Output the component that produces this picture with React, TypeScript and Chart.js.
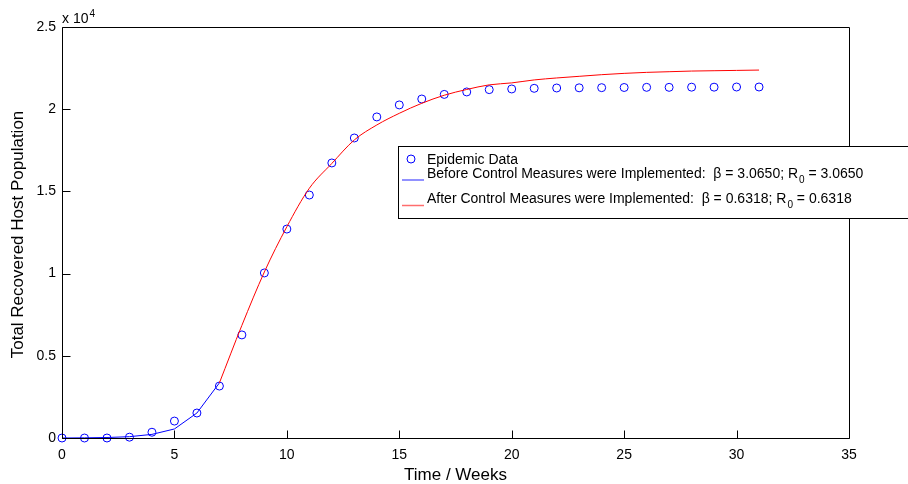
import React, { useEffect, useRef } from "react";
import { Chart, registerables } from "chart.js";

Chart.register(...registerables);

// ---- data ----
const weeks = [0, 1, 2, 3, 4, 5, 6, 7, 8, 9, 10, 11, 12, 13, 14, 15, 16, 17, 18, 19, 20, 21, 22, 23, 24, 25, 26, 27, 28, 29, 30, 31];
const epidemicData = [0, 0, 0, 50, 350, 1030, 1520, 3160, 6270, 10040, 12710, 14780, 16730, 18250, 19530, 20260, 20620, 20900, 21050, 21190, 21230, 21270, 21290, 21300, 21310, 21320, 21330, 21330, 21340, 21340, 21350, 21350];

const beforeWeeks = [0, 1, 2, 3, 4, 5, 6, 7];
const beforeModel = [0, 10, 30, 80, 220, 550, 1520, 3350];

const afterWeeks = [7, 8, 9, 10, 11, 12, 13, 14, 15, 16, 17, 18, 19, 20, 21, 22, 23, 24, 25, 26, 27, 28, 29, 30, 31];
const afterModel = [3350, 6850, 10100, 12850, 15190, 16700, 18130, 19040, 19750, 20360, 20850, 21200, 21480, 21600, 21780, 21900, 22000, 22100, 22180, 22240, 22280, 22320, 22340, 22360, 22380];

const xTicks = [0, 5, 10, 15, 20, 25, 30, 35];
const yTicks = [0, 5000, 10000, 15000, 20000, 25000];
const yTickLabels = ["0", "0.5", "1", "1.5", "2", "2.5"];

const legendLabels = [
  "Epidemic Data",
  "Before Control Measures were Implemented:  \u03B2 = 3.0650; R",
  "After Control Measures were Implemented:  \u03B2 = 0.6318; R",
];
const legendTails = ["", " = 3.0650", " = 0.6318"];

const xTitle = "Time / Weeks";
const yTitle = "Total Recovered Host Population";

const FONT = "'Liberation Sans', Arial, Helvetica, sans-serif";

const framePlugin = {
  id: "frame",
  afterDraw(chart: any) {
    const { ctx, chartArea: a, scales } = chart;
    const xs = scales.x;
    const ys = scales.y;
    ctx.save();
    // frame
    ctx.strokeStyle = "#000";
    ctx.lineWidth = 1;
    const L = Math.round(a.left) + 0.5;
    const R = Math.round(a.right) + 0.5;
    const T = Math.round(a.top) + 0.5;
    const B = Math.round(a.bottom) + 0.5;
    ctx.beginPath();
    ctx.moveTo(L, T);
    ctx.lineTo(R, T);
    ctx.lineTo(R, B);
    ctx.lineTo(L, B);
    ctx.closePath();
    ctx.stroke();
    // inward ticks
    ctx.beginPath();
    xTicks.forEach((v) => {
      const px = Math.round(xs.getPixelForValue(v)) + 0.5;
      ctx.moveTo(px, B);
      ctx.lineTo(px, B - 8);
    });
    yTicks.forEach((v) => {
      const py = Math.round(ys.getPixelForValue(v)) + 0.5;
      ctx.moveTo(L, py);
      ctx.lineTo(L + 8, py);
    });
    ctx.stroke();

    // exponent label
    ctx.fillStyle = "#000";
    ctx.font = `14px ${FONT}`;
    ctx.textBaseline = "alphabetic";
    ctx.textAlign = "left";
    ctx.fillText("x 10", a.left, 23);
    const w = ctx.measureText("x 10").width;
    ctx.font = `10px ${FONT}`;
    ctx.fillText("4", a.left + w + 1, 17);

    // axis titles
    ctx.font = `17px ${FONT}`;
    ctx.textAlign = "center";
    ctx.textBaseline = "middle";
    ctx.fillText(xTitle, (a.left + a.right) / 2, 475);
    ctx.save();
    ctx.translate(18, (a.top + a.bottom) / 2 + 2);
    ctx.rotate(-Math.PI / 2);
    ctx.fillText(yTitle, 0, 0);
    ctx.restore();

    // legend
    const bx = 398.5, by = 146.5, bw = 520, bh = 72;
    ctx.fillStyle = "#fff";
    ctx.fillRect(bx, by, bw, bh);
    ctx.strokeStyle = "#000";
    ctx.lineWidth = 1;
    ctx.strokeRect(bx, by, bw, bh);

    ctx.strokeStyle = "#0000ff";
    ctx.beginPath();
    ctx.arc(411, 159, 4, 0, Math.PI * 2);
    ctx.stroke();

    ctx.lineWidth = 1.5;
    ctx.strokeStyle = "rgba(60,60,255,0.75)";
    ctx.beginPath();
    ctx.moveTo(402, 180);
    ctx.lineTo(424, 180);
    ctx.stroke();
    ctx.strokeStyle = "rgba(255,60,60,0.75)";
    ctx.beginPath();
    ctx.moveTo(402, 205.5);
    ctx.lineTo(424, 205.5);
    ctx.stroke();

    ctx.fillStyle = "#000";
    ctx.textAlign = "left";
    ctx.textBaseline = "alphabetic";
    const ys2 = [164, 178, 203];
    legendLabels.forEach((t, i) => {
      ctx.font = `14px ${FONT}`;
      ctx.fillText(t, 427, ys2[i]);
      if (legendTails[i]) {
        const tw = ctx.measureText(t).width;
        ctx.font = `10px ${FONT}`;
        ctx.fillText("0", 427 + tw + 1, ys2[i] + 5);
        const sw = ctx.measureText("0").width;
        ctx.font = `14px ${FONT}`;
        ctx.fillText(legendTails[i], 427 + tw + 1 + sw, ys2[i]);
      }
    });
    ctx.restore();
  },
};

export default function App() {
  const ref = useRef<HTMLCanvasElement | null>(null);
  useEffect(() => {
    if (!ref.current) return;
    const chart = new Chart(ref.current, {
      type: "scatter",
      data: {
        datasets: [
          {
            label: "Before",
            type: "line",
            data: beforeWeeks.map((x, i) => ({ x, y: beforeModel[i] })),
            borderColor: "#0000ff",
            borderWidth: 1,
            pointRadius: 0,
            tension: 0,
            clip: false as any,
          },
          {
            label: "After",
            type: "line",
            data: afterWeeks.map((x, i) => ({ x, y: afterModel[i] })),
            borderColor: "#ff0000",
            borderWidth: 1,
            pointRadius: 0,
            cubicInterpolationMode: "monotone",
            clip: false as any,
          },
          {
            label: "Epidemic Data",
            data: weeks.map((x, i) => ({ x, y: epidemicData[i] })),
            borderColor: "#0000ff",
            backgroundColor: "rgba(0,0,0,0)",
            pointRadius: 4,
            pointBorderWidth: 1,
            showLine: false,
            clip: false as any,
          },
        ],
      },
      options: {
        animation: false,
        responsive: false,
        maintainAspectRatio: false,
        layout: { padding: { top: 27, right: 59, left: 0, bottom: 0 } },
        plugins: { legend: { display: false }, tooltip: { enabled: false } },
        scales: {
          x: {
            type: "linear",
            min: 0,
            max: 35,
            grid: { display: false, drawTicks: false },
            border: { display: false },
            afterBuildTicks: (s: any) => {
              s.ticks = xTicks.map((v) => ({ value: v }));
            },
            afterFit: (s: any) => {
              s.height = 46;
            },
            ticks: {
              padding: 9,
              color: "#000",
              font: { family: FONT, size: 14 },
              callback: (v: any) => String(v),
            },
          },
          y: {
            type: "linear",
            min: 0,
            max: 25000,
            grid: { display: false, drawTicks: false },
            border: { display: false },
            afterBuildTicks: (s: any) => {
              s.ticks = yTicks.map((v) => ({ value: v }));
            },
            afterFit: (s: any) => {
              s.width = 62;
            },
            ticks: {
              padding: 6,
              color: "#000",
              font: { family: FONT, size: 14 },
              callback: (v: any) => {
                const i = yTicks.indexOf(Number(v));
                return i >= 0 ? yTickLabels[i] : "";
              },
            },
          },
        },
      },
      plugins: [framePlugin],
    } as any);
    return () => chart.destroy();
  }, []);
  return (
    <div style={{ position: "fixed", left: 0, top: 0, width: 908, height: 484, background: "#fff" }}>
      <canvas ref={ref} width={908} height={484} style={{ display: "block", width: 908, height: 484 }} />
    </div>
  );
}
